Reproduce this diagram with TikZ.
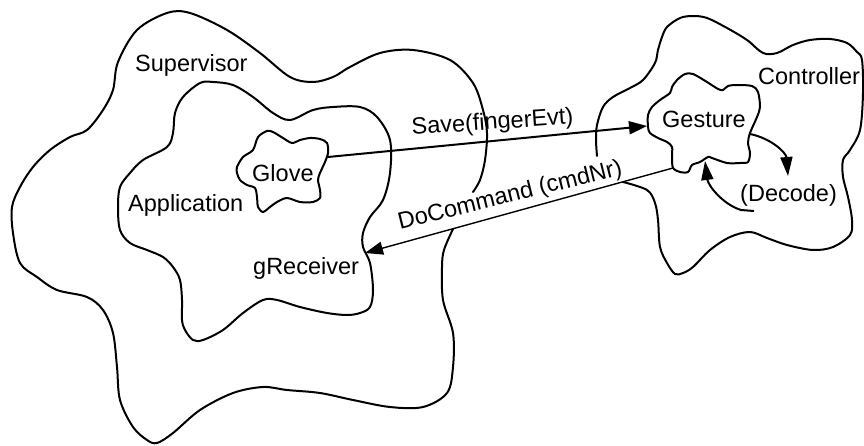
\documentclass[tikz,border=0pt]{standalone}
\usepackage{fontspec}
\setmainfont{Liberation Sans}
\usetikzlibrary{arrows.meta}
\begin{document}
\begin{tikzpicture}[x=1pt,y=-1pt,
  outline/.style={line width=2pt,line join=round,line cap=round},
  msg/.style={line width=2pt,-{Triangle[length=18pt,width=13pt]}},
  loop/.style={line width=2pt,-{Triangle[length=19pt,width=12pt]}},
  lbl/.style={font=\fontsize{23.5}{28}\selectfont,inner sep=0pt}]
\path[use as bounding box] (0,0) rectangle (864,446);
% Supervisor (open at the crossing)
\draw[outline] plot[smooth,tension=0.55] coordinates {
 (453,229) (444,250) (442,267) (443,300) (453,333) (453,367) (447,393) (423,407)
 (390,407) (353,400) (320,393) (287,390) (263,387) (233,393) (200,410) (173,433)
 (157,443) (147,440) (133,427) (120,400) (117,367) (113,333) (103,310) (87,297)
 (57,290) (37,277) (20,263) (13,233) (12,207) (20,187) (33,167) (50,150) (70,137)
 (87,130) (103,110) (113,90) (118,62) (137,30) (167,13) (190,13) (227,30) (260,53)
 (290,77) (313,82) (333,77) (350,67) (380,53) (413,50) (450,60) (473,83) (483,110)
 (487,133) (485,160) (480,180) (473,192)};
% Application
\draw[outline] plot[smooth cycle,tension=0.55] coordinates {
 (183,97) (200,83) (213,82) (233,85) (253,97) (273,113) (290,120) (313,110) (333,107)
 (360,107) (377,117) (390,140) (390,173) (383,200) (370,217) (363,233) (363,247)
 (370,263) (373,290) (370,307) (360,313) (347,315) (327,313) (300,307) (277,300)
 (263,300) (243,313) (223,330) (203,340) (193,340) (185,330) (182,320) (182,300)
 (180,280) (173,267) (163,257) (147,250) (130,243) (120,230) (118,207) (120,187)
 (130,173) (143,160) (167,147) (173,133) (175,113)};
% Glove
\draw[outline] plot[smooth cycle,tension=0.5] coordinates {
 (237,167) (243,157) (253,150) (258,137) (267,131) (273,132) (283,138) (292,143)
 (300,140) (310,138) (320,139) (327,143) (328,153) (325,162) (320,173) (318,180)
 (320,190) (320,198) (313,202) (300,202) (287,198) (277,202) (270,207) (263,212)
 (258,207) (257,197) (255,188) (247,185) (240,180) (237,173)};
% Controller (open at the crossing)
\draw[outline] plot[smooth,tension=0.55] coordinates {
 (623,182) (647,190) (655,203) (658,220) (660,247) (667,263) (675,274) (683,273)
 (693,267) (710,250) (730,237) (750,232) (767,238) (787,245) (813,250) (833,247)
 (850,235) (852,220) (848,197) (843,177) (843,160) (850,150) (860,130) (863,93)
 (862,60) (857,52) (847,43) (830,39) (810,40) (793,45) (777,53) (763,53) (747,40)
 (727,28) (707,18) (693,16) (680,18) (667,27) (662,37) (658,50) (655,63) (643,80)
 (630,88) (613,97) (603,107) (597,125) (596,140) (597,156)};
% Gesture
\draw[outline] plot[smooth cycle,tension=0.5] coordinates {
 (648,115) (652,107) (660,100) (670,93) (672,87) (677,80) (685,74) (693,74) (707,82)
 (718,89) (723,90) (728,86) (737,85) (752,86) (758,92) (760,107) (757,117) (750,133)
 (748,143) (750,153) (748,162) (740,163) (727,163) (712,158) (708,157) (700,162)
 (692,165) (688,172) (680,172) (673,168) (672,157) (672,147) (667,142) (658,138)
 (650,133) (648,127)};
% anchor points on the outlines
\coordinate (gloveR) at (328,157);
\coordinate (gestL) at (647,126);
\coordinate (gestB) at (673,168);
\coordinate (recv) at (365,253);
\coordinate (gestR) at (750,134);
\coordinate (decA) at (788,176);
\coordinate (decB) at (754,211);
\coordinate (gestB2) at (705,161);
% labels
\node[lbl,anchor=base west] (sup) at (135,72) {Supervisor};
\node[lbl,anchor=base west] (app) at (128,212) {Application};
\node[lbl,anchor=base west] (glove) at (252,182) {Glove};
\node[lbl,anchor=base west] (grec) at (253,274) {gReceiver};
\node[lbl,anchor=base west] (ctrl) at (758,85) {Controller};
\node[lbl,anchor=base west] (gest) at (662,128) {Gesture};
\node[lbl,anchor=base west] (dec) at (740,202) {(Decode)};
\node[lbl,anchor=base west,rotate=4] (save) at (412,135) {Save(fingerEvt)};
\node[lbl,anchor=base west,rotate=14] (docmd) at (400,230) {DoCommand (cmdNr)};
% messages
\draw[msg] (gloveR) -- (gestL);
\draw[msg,line width=1.4pt] (gestB) -- (recv);
\draw[loop] (gestR) .. controls (770,138) and (786,152) .. (decA);
\draw[loop] (decB) -- (741,210) .. controls (722,204) and (708,185) .. (gestB2);
\end{tikzpicture}
\end{document}
